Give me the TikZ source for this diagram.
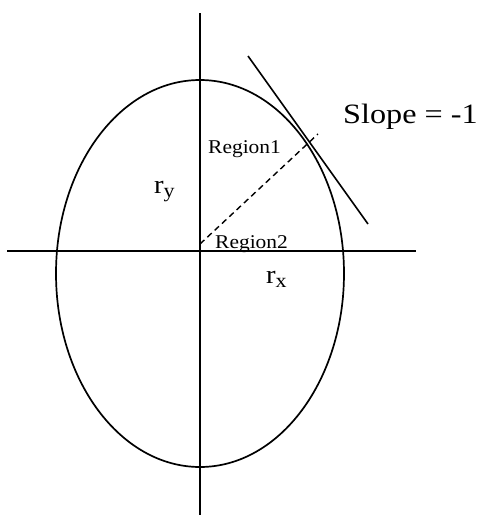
\documentclass[tikz,border=0pt]{standalone}
\usepackage{fontspec}
\setmainfont{Liberation Serif}[FakeStretch=1.1]
\newfontfamily\anchofont{Liberation Serif}[FakeStretch=1.15]
\usetikzlibrary{positioning}
\newcommand{\rsub}[1]{r\raisebox{-0.35ex}{\fontsize{20}{21}\selectfont #1}}

\begin{document}
\begin{tikzpicture}[
  x=1pt, y=-1pt,
  axis/.style={line width=1.6pt, black},
  curve/.style={line width=1.7pt, black},
  tangente/.style={line width=1.6pt, black},
  guia/.style={line width=1.4pt, black, dash pattern=on 6pt off 4pt},
  region/.style={font=\fontsize{19.5}{21}\selectfont, inner sep=0pt, anchor=base west},
  radio/.style={font=\fontsize{26}{28}\selectfont, inner sep=0pt, anchor=base west},
  pendiente/.style={font=\anchofont\fontsize{28}{30}\selectfont, inner sep=0pt, anchor=base west}
]
\useasboundingbox (0,0) rectangle (483,515);

% Puntos de referencia
\coordinate (ytop) at (200,13);
\coordinate (ybot) at (200,515);
\coordinate (xizq) at (7,251);
\coordinate (xder) at (416,251);
\coordinate (centro) at (200,273.5);
\coordinate (origen) at (200,244);
\coordinate (corte) at (318,134);
\coordinate (t1) at (248,56);
\coordinate (t2) at (368,224);

% Ejes
\draw[axis] (ytop) -- (ybot);
\draw[axis] (xizq) -- (xder);

% Elipse
\draw[curve] (centro) ellipse [x radius=144, y radius=193.5];

% Tangente y linea de pendiente
\draw[tangente] (t1) -- (t2);
\draw[guia] (origen) -- (corte);

% Etiquetas
\node[region] (reg1) at (208,153) {Region1};
\node[region] (reg2) at (215,248) {Region2};
\node[radio] (ry) at (154,193) {\rsub{y}};
\node[radio] (rx) at (266,283) {\rsub{x}};
\node[pendiente] (slope) at (343,123) {Slope = -1};
\end{tikzpicture}
\end{document}
